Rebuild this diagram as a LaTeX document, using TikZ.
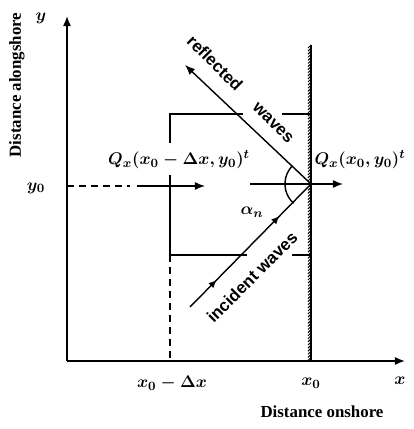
\documentclass[tikz,border=0pt]{standalone}
\usepackage{fontspec}
\setmainfont{Liberation Serif}
\setsansfont{Liberation Sans}
\usetikzlibrary{arrows.meta, decorations.pathreplacing, decorations.markings}

\begin{document}
\begin{tikzpicture}[
  x=0.025cm, y=0.025cm,
  axisline/.style={-{Latex[length=2.5mm, width=2mm]}, line width=1.1pt},
  cvline/.style={line width=1pt},
  cvdash/.style={line width=1pt, dash pattern=on 5pt off 3.5pt},
  wavearrow/.style={-{Latex[length=2.5mm, width=2mm]}, line width=1pt},
  wavelabel/.style={font=\sffamily\bfseries\fontsize{12}{14}\selectfont},
  mathlabel/.style={font=\boldmath\fontsize{12.5}{15}\selectfont},
  axistitle/.style={font=\bfseries\fontsize{12}{14}\selectfont},
]
  \useasboundingbox (0,0) rectangle (414,429);

  % --- Points ---
  \coordinate (O) at (67,68);
  \coordinate (ytip) at (67,413);
  \coordinate (xtip) at (405,68);
  \coordinate (walltop) at (311,384);
  \coordinate (wallfoot) at (311,68);
  \coordinate (P) at (311,245);
  \coordinate (refltip) at (185,364);
  \coordinate (incstart) at (190,122);

  % control volume
  \coordinate (cvtl) at (170,315);
  \coordinate (cvtm) at (243,315);
  \coordinate (cvtr) at (282,315);
  \coordinate (cvtw) at (311,315);
  \coordinate (cvgapa) at (170,286);
  \coordinate (cvgapb) at (170,254);
  \coordinate (cvbl) at (170,174);
  \coordinate (cvbm) at (247,174);
  \coordinate (cvbr) at (292,174);
  \coordinate (cvbw) at (311,174);
  \coordinate (cvfoot) at (170,68);

  % transport arrows
  \coordinate (yzero) at (67,243);
  \coordinate (dashend) at (130,243);
  \coordinate (qinstart) at (137,243);
  \coordinate (qintip) at (205,243);
  \coordinate (qoutstart) at (250,245);
  \coordinate (qouttip) at (343,245);

  % --- Axes ---
  \draw[axisline] (O) -- (ytip);
  \draw[axisline] (O) -- (xtip);

  % --- Shoreline ---
  \draw[line width=2pt] (walltop) -- (wallfoot);
  \draw[line width=0.7pt, decorate,
    decoration={border, segment length=2.2pt, amplitude=3pt, angle=-45}]
    (walltop) -- (wallfoot);

  % --- Control volume ---
  \draw[cvline] (cvgapa) -- (cvtl) -- (cvtm);
  \draw[cvline] (cvtr) -- (cvtw);
  \draw[cvline] (cvgapb) -- (cvbl) -- (cvbm);
  \draw[cvline] (cvbr) -- (cvbw);
  \draw[cvdash] (cvbl) -- (cvfoot);

  % --- Sediment transport ---
  \draw[cvdash] (yzero) -- (dashend);
  \draw[wavearrow] (qinstart) -- (qintip);
  \draw[wavearrow] (qoutstart) -- (qouttip);

  % --- Waves ---
  \draw[wavearrow] (P) -- (refltip);
  \draw[cvline, postaction={decorate}, decoration={markings,
      mark=at position 0.22 with {\arrow{Latex[length=2mm, width=1.8mm]}},
      mark=at position 0.74 with {\arrow{Latex[length=2mm, width=1.8mm]}}}]
    (incstart) -- (P);
  \draw[cvline] (P) ++(135:0.65cm) arc[start angle=135, end angle=228, radius=0.65cm];

  % --- Labels ---
  \node[mathlabel] (ylab) at (41,411) {$y$};
  \node[axistitle, rotate=90] (ytitle) at (17,344) {Distance alongshore};
  \node[mathlabel] (yzerolab) at (36,241) {$y_0$};
  \node[mathlabel] (qinlab) at (179,269) {$Q_x(x_0-\Delta x, y_0)^t$};
  \node[mathlabel] (qoutlab) at (360,269) {$Q_x(x_0, y_0)^t$};
  \node[mathlabel] (alab) at (252,217) {$\alpha_n$};
  \node[mathlabel] (xdlab) at (172,46) {$x_0-\Delta x$};
  \node[mathlabel] (xzerolab) at (311,46) {$x_0$};
  \node[mathlabel] (xlab) at (400,48) {$x$};
  \node[axistitle] (xtitle) at (322,17) {Distance onshore};
  \node[wavelabel, rotate=-45] (refllab) at (215,366) {reflected};
  \node[wavelabel, rotate=-45] (rwavlab) at (273,306) {waves};
  \node[wavelabel, rotate=45] (inclab) at (252,152) {incident waves};
\end{tikzpicture}
\end{document}
